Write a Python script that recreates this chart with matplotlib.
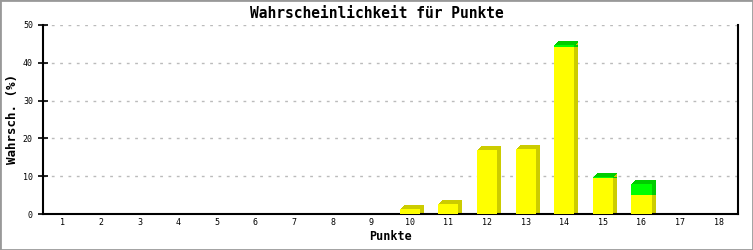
import matplotlib.pyplot as plt
from matplotlib.transforms import ScaledTranslation
from matplotlib.patches import Rectangle

# values
punkte = list(range(1, 19))
gelb = [0, 0, 0, 0, 0, 0, 0, 0, 0, 1.4, 2.7, 16.8, 17.1, 44.3, 9.6, 4.9, 0, 0]
gruen = [0, 0, 0, 0, 0, 0, 0, 0, 0, 0, 0, 0, 0, 0.3, 0.2, 3.1, 0, 0]
y_ticks = [0, 10, 20, 30, 40, 50]

DPI = 100
fig = plt.figure(figsize=(7.53, 2.5), dpi=DPI)
fig.patch.set_facecolor("white")
fig.patches.append(Rectangle((0, 0), 1, 1, transform=fig.transFigure,
                             fill=False, edgecolor="#999999", linewidth=2))

ax = fig.add_axes([43 / 753, 36 / 250, 695 / 753, 189 / 250])
font = "DejaVu Sans Mono"

bar_w = 0.52
depth = 4  # pixels

# extruded sides: several offset copies, darker colour
for d in range(depth, 0, -1):
    for dy in (d, 0):
        off = ax.transData + ScaledTranslation(d / DPI, dy / DPI, fig.dpi_scale_trans)
        ax.bar(punkte, gelb, width=bar_w, color="#cccc00", transform=off, zorder=2)
        ax.bar(punkte, gruen, width=bar_w, bottom=gelb, color="#00cc00",
               transform=off, zorder=2)

ax.bar(punkte, gelb, width=bar_w, color="#ffff00", zorder=3)
ax.bar(punkte, gruen, width=bar_w, bottom=gelb, color="#00ff00", zorder=3)

ax.set_xlim(0.5, 18.5)
ax.set_ylim(0, 50)
ax.set_xticks(punkte)
ax.set_xticklabels([str(p) for p in punkte], fontfamily=font, fontsize=6)
ax.set_yticks(y_ticks)
ax.set_yticklabels([str(v) for v in y_ticks], fontfamily=font, fontsize=6)
ax.tick_params(axis="x", length=0, pad=3)
ax.tick_params(axis="y", direction="inout", length=6.5, width=1.2, pad=4)

ax.yaxis.grid(True, linestyle=(0, (2, 4)), color="#bbbbbb", linewidth=1)
ax.set_axisbelow(True)

ax.spines["top"].set_visible(False)
for s in ["left", "bottom", "right"]:
    ax.spines[s].set_linewidth(1.5)
    ax.spines[s].set_color("black")

ax.set_xlabel("Punkte", fontfamily=font, fontweight="bold", fontsize=8.5, labelpad=2)
ax.set_ylabel("Wahrsch. (%)", fontfamily=font, fontweight="bold", fontsize=9, labelpad=3)
fig.text(0.5, 1 - 13 / 250, "Wahrscheinlichkeit für Punkte", ha="center", va="center",
         fontfamily=font, fontweight="bold", fontsize=10.5)

fig.savefig("out.png", dpi=DPI)
